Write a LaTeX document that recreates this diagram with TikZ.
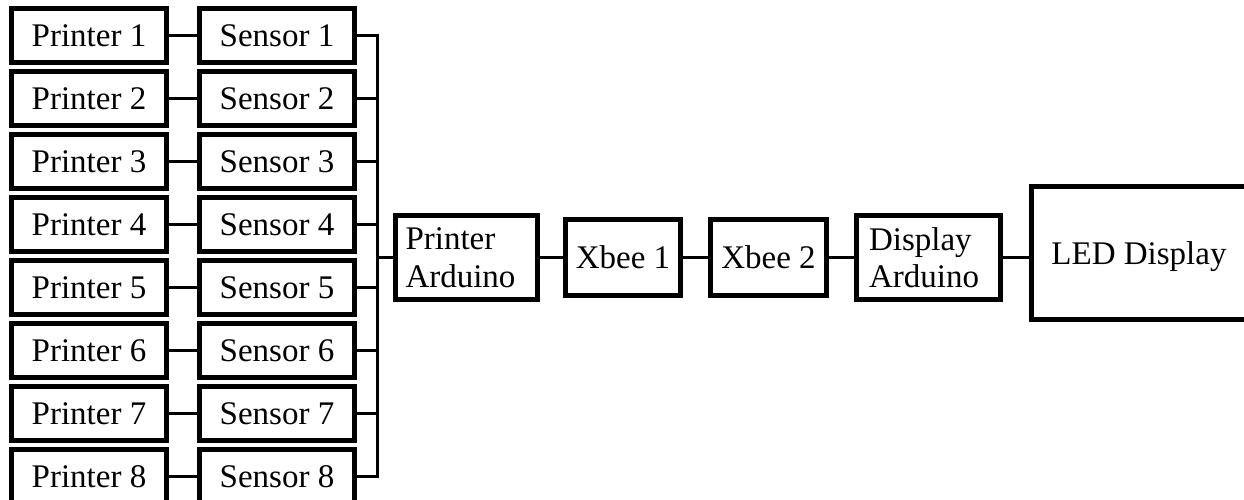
\documentclass[tikz,border=0pt]{standalone}
\usepackage{fontspec}
\setmainfont{Liberation Serif}
\begin{document}
\begin{tikzpicture}[x=1pt,y=-1pt,
  box/.style={draw=black, line width=5pt, fill=white, inner sep=0pt,
    font=\fontsize{33}{37.5}\selectfont},
  onebox/.style={box, text height=22pt, text depth=0pt},
  rowbox/.style={onebox, minimum width=155pt, minimum height=54pt},
  conn/.style={draw=black, line width=3pt}]
\path[use as bounding box, clip] (0,0) rectangle (1244,500);
\fill[white] (0,0) rectangle (1244,500);
% left columns
\foreach \i in {1,...,8}{
  \node[rowbox] (p\i) at (89, {35.5+63*(\i-1)}) {Printer \i};
  \node[rowbox] (s\i) at (277, {35.5+63*(\i-1)}) {Sensor \i};
  \draw[conn] (p\i.east) -- (s\i.east -| s\i.west);
}
\coordinate (bus) at (377.5,0);
% chain
\node[box, minimum width=142pt, minimum height=84pt, text width=122pt, align=left] (pa) at (466.5,257.5) {Printer\\Arduino};
\node[onebox, minimum width=115pt, minimum height=76pt] (x1) at (623,257.5) {Xbee 1};
\node[onebox, minimum width=116pt, minimum height=76pt] (x2) at (768.5,257.5) {Xbee 2};
\node[box, minimum width=144pt, minimum height=84pt, text width=119pt, align=left] (da) at (928.5,257.5) {Display\\Arduino};
\node[onebox, minimum width=215pt, minimum height=133pt] (led) at (1139,253) {LED Display};
% bus
\draw[conn] (s1.east) -- (s1.east -| bus) -- (s8.east -| bus) -- (s8.east);
\foreach \i in {2,...,7}{
  \draw[conn] (s\i.east) -- (s\i.east -| bus);
}
\draw[conn] (pa.west -| bus) -- (pa.west);
\draw[conn] (pa.east) -- (x1.west);
\draw[conn] (x1.east) -- (x2.west);
\draw[conn] (x2.east) -- (da.west);
\draw[conn] (da.east) -- (da.east -| led.west);
\end{tikzpicture}
\end{document}
